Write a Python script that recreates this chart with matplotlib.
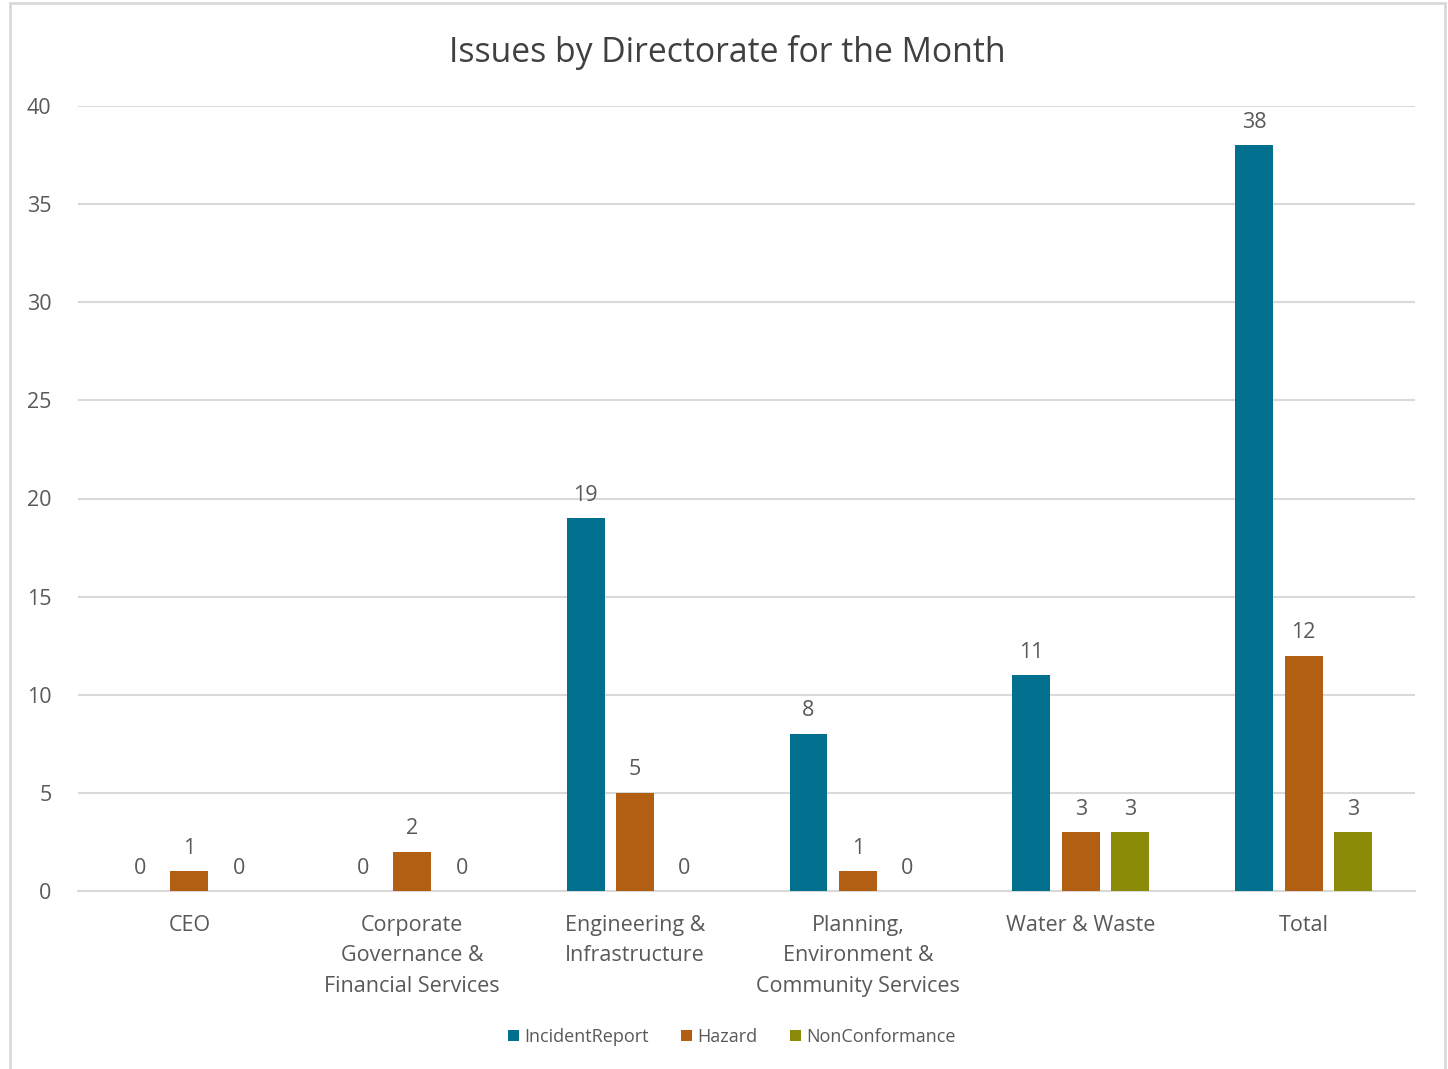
import matplotlib
matplotlib.use("Agg")
import matplotlib.pyplot as plt
from matplotlib.patches import Rectangle
import numpy as np

categories = ["CEO", "Corporate\nGovernance &\nFinancial Services", "Engineering &\nInfrastructure",
              "Planning,\nEnvironment &\nCommunity Services", "Water & Waste", "Total"]
series_names = ["IncidentReport", "Hazard", "NonConformance"]
incident_report = [0, 0, 19, 8, 11, 38]
hazard = [1, 2, 5, 1, 3, 12]
non_conformance = [0, 0, 0, 0, 3, 3]
y_ticks = [0, 5, 10, 15, 20, 25, 30, 35, 40]
title = "Issues by Directorate for the Month"

colors = ["#00708E", "#B35F13", "#8B8B08"]
text_color = "#595959"
grid_color = "#D9D9D9"

plt.rcParams["font.family"] = ["Open Sans", "DejaVu Sans"]

fig = plt.figure(figsize=(14.48, 10.69), dpi=100)
ax = fig.add_axes([78 / 1448, 1 - 891 / 1069, (1415 - 78) / 1448, (891 - 106) / 1069])

x = np.arange(len(categories))
width = 0.17
offsets = [-0.222, 0.0, 0.222]
for vals, off, col, name in zip([incident_report, hazard, non_conformance], offsets, colors, series_names):
    bars = ax.bar(x + off, vals, width, color=col, label=name, zorder=3)
    for b, v in zip(bars, vals):
        ax.annotate(str(v), (b.get_x() + b.get_width() / 2, v), xytext=(0, 9),
                    textcoords="offset points", ha="center", va="bottom",
                    fontsize=15.5, color=text_color)

ax.set_xlim(-0.5, len(categories) - 0.5)
ax.set_ylim(0, 40)
ax.set_yticks(y_ticks)
ax.set_yticklabels([str(t) for t in y_ticks], fontsize=15.5, color=text_color)
ax.set_xticks(x)
ax.set_xticklabels(categories, fontsize=15.5, color=text_color, linespacing=1.6)
ax.tick_params(axis="x", length=0, pad=17)
ax.tick_params(axis="y", length=0, pad=19)
ax.yaxis.grid(True, color=grid_color, linewidth=1.5, zorder=0)
ax.set_axisbelow(True)
for s in ["top", "right", "left"]:
    ax.spines[s].set_visible(False)
ax.spines["bottom"].set_color(grid_color)
ax.spines["bottom"].set_linewidth(1.5)

fig.text(727 / 1448, 1 - 52 / 1069, title, ha="center", va="center", fontsize=24.3, color="#404040")

leg = fig.legend(loc="center", bbox_to_anchor=(732 / 1448, 1 - 1037 / 1069), ncol=3, frameon=False,
                 fontsize=13, handlelength=0.6, handleheight=0.6, handletextpad=0.3, columnspacing=1.8)
for t in leg.get_texts():
    t.set_color(text_color)

# chart frame
fig.patches.append(Rectangle((10 / 1448, -0.05), (1445 - 10) / 1448, 1 - 3 / 1069 + 0.05,
                             transform=fig.transFigure, fill=False, edgecolor="#D9D9D9",
                             linewidth=2, clip_on=False))

fig.savefig("out.png", dpi=100, facecolor="white")
